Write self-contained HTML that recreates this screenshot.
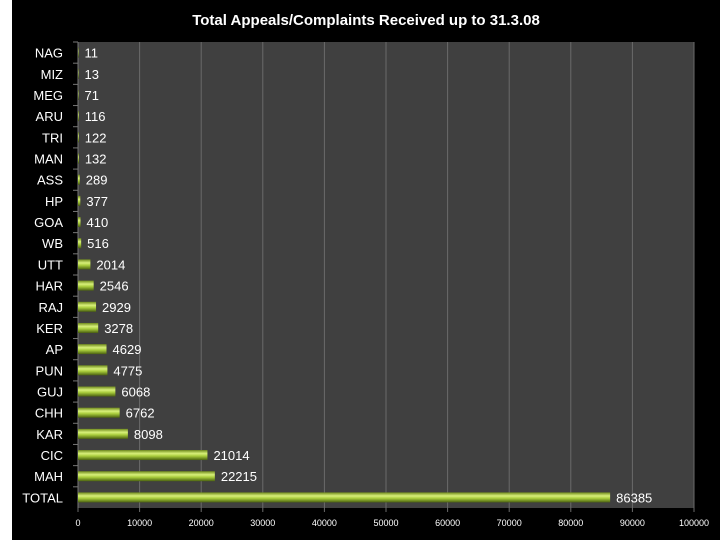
<!DOCTYPE html>
<html><head><meta charset="utf-8"><style>
body{margin:0;width:720px;height:540px;background:#fff;overflow:hidden;font-family:"Liberation Sans",sans-serif}
#bg{position:absolute;left:12px;top:0;width:708px;height:540px;background:#000}
svg{position:absolute;left:0;top:0}
</style></head><body>
<div id="bg"></div>
<svg id="c" width="720" height="540">
<defs><linearGradient id="g" x1="0" y1="0" x2="0" y2="1">
<stop offset="0" stop-color="#6f8a1c"/><stop offset="0.35" stop-color="#d8f07a"/><stop offset="0.6" stop-color="#a8cc3c"/><stop offset="1" stop-color="#4a6010"/></linearGradient></defs>
<text x="366" y="25" fill="#fff" font-size="15" font-weight="bold" text-anchor="middle">Total Appeals/Complaints Received up to 31.3.08</text>
</svg>
<script>
const categories=["NAG","MIZ","MEG","ARU","TRI","MAN","ASS","HP","GOA","WB","UTT","HAR","RAJ","KER","AP","PUN","GUJ","CHH","KAR","CIC","MAH","TOTAL"];
const values=[11,13,71,116,122,132,289,377,410,516,2014,2546,2929,3278,4629,4775,6068,6762,8098,21014,22215,86385];
const ticks=[0,10000,20000,30000,40000,50000,60000,70000,80000,90000,100000];
const svg=document.getElementById('c');const NS='http://www.w3.org/2000/svg';
const X0=78,X1=694,Y0=42,Y1=508;
const x=v=>X0+(v-ticks[0])/(ticks[ticks.length-1]-ticks[0])*(X1-X0);
const band=(Y1-Y0)/categories.length;
const y=i=>Y0+band*(i+0.5);
function mk(t,a){const e=document.createElementNS(NS,t);for(const k in a)e.setAttribute(k,a[k]);svg.appendChild(e);return e;}
const pa=mk('rect',{x:X0,y:Y0,width:X1-X0,height:Y1-Y0,fill:'#404040'});


ticks.forEach(t=>{
 const l=mk('line',{x1:x(t),x2:x(t),y1:Y0,y2:Y1+4,stroke:'#6a6a6a','stroke-width':1});
 
 
 const tx=mk('text',{x:x(t),y:Y1+18,fill:'#fff','font-size':9,'text-anchor':'middle'});tx.textContent=t;
 
 
});
const ax=mk('line',{x1:X0,x2:X0,y1:Y0,y2:Y1,stroke:'#777'});


categories.forEach((c,i)=>{
 const tk=mk('line',{x1:X0-5,x2:X0,y1:Y0+band*i,y2:Y0+band*i,stroke:'#777'});
 
 
 const lb=mk('text',{x:63,y:y(i)+5,fill:'#fff','font-size':13,'text-anchor':'end'});lb.textContent=c;
 
 
 const w=Math.max(x(values[i])-X0,0.5);
 const b=mk('rect',{x:X0,y:y(i)-5,width:w,height:10,fill:'url(#g)'});
 
 
 const v=mk('text',{x:X0+w+6,y:y(i)+5,fill:'#fff','font-size':13});v.textContent=values[i];
 
 
});
</script>
</body></html>
